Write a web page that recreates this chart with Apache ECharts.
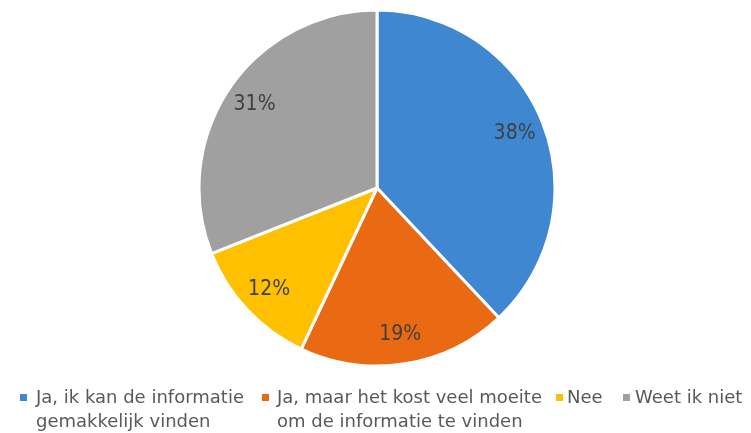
<!DOCTYPE html>
<html>
<head>
<meta charset="utf-8">
<script src="https://cdn.jsdelivr.net/npm/echarts@6/dist/echarts.min.js"></script>
<style>
  html, body { margin: 0; padding: 0; background: #fff; }
  #chart { width: 751px; height: 433px; }
</style>
</head>
<body>
<div id="chart"></div>
<script>
// Survey answers and their shares (%)
const categories = [
  'Ja, ik kan de informatie\ngemakkelijk vinden',
  'Ja, maar het kost veel moeite\nom de informatie te vinden',
  'Nee',
  'Weet ik niet'
];
const values = [38, 19, 12, 31];
const colors = ['#3F87D1', '#E96A12', '#FFC000', '#A0A0A0'];

// Legend layout: x of each swatch and of its text
const legendIconX = [20, 262, 556, 623];
const legendTextX = [36, 277, 567, 635];

const center = [377, 188];
const radius = 178;

const data = categories.map((name, i) => ({
  name: name,
  value: values[i],
  itemStyle: { color: colors[i] }
}));

const legendGraphics = [];
categories.forEach((name, i) => {
  legendGraphics.push({
    type: 'rect',
    left: legendIconX[i],
    top: 394,
    shape: { width: 7, height: 7 },
    style: { fill: colors[i] },
    silent: true
  });
  legendGraphics.push({
    type: 'text',
    left: legendTextX[i],
    top: 386,
    style: {
      text: name,
      fill: '#595959',
      font: '18px "DejaVu Sans"',
      lineHeight: 24
    },
    silent: true
  });
});

const chart = echarts.init(document.getElementById('chart'), null, { renderer: 'canvas' });
chart.setOption({
  animation: false,
  backgroundColor: '#ffffff',
  series: [
    {
      type: 'pie',
      center: center,
      radius: [0, radius],
      startAngle: 90,
      clockwise: true,
      data: data,
      label: { show: false },
      labelLine: { show: false },
      itemStyle: { borderColor: '#ffffff', borderWidth: 3 },
      emphasis: { disabled: true }
    },
    {
      // ring carrying the percentage labels, drawn transparent over the slices
      type: 'pie',
      center: center,
      radius: [112, radius],
      startAngle: 90,
      clockwise: true,
      silent: true,
      data: data.map(d => ({ name: d.name, value: d.value })),
      itemStyle: { color: 'rgba(0,0,0,0)', borderWidth: 0 },
      label: {
        show: true,
        position: 'inside',
        formatter: '{c}%',
        color: '#404040',
        fontFamily: '"DejaVu Sans Condensed", "DejaVu Sans"',
        fontSize: 21
      },
      labelLine: { show: false },
      emphasis: { disabled: true }
    }
  ],
  graphic: legendGraphics
});
</script>
</body>
</html>
